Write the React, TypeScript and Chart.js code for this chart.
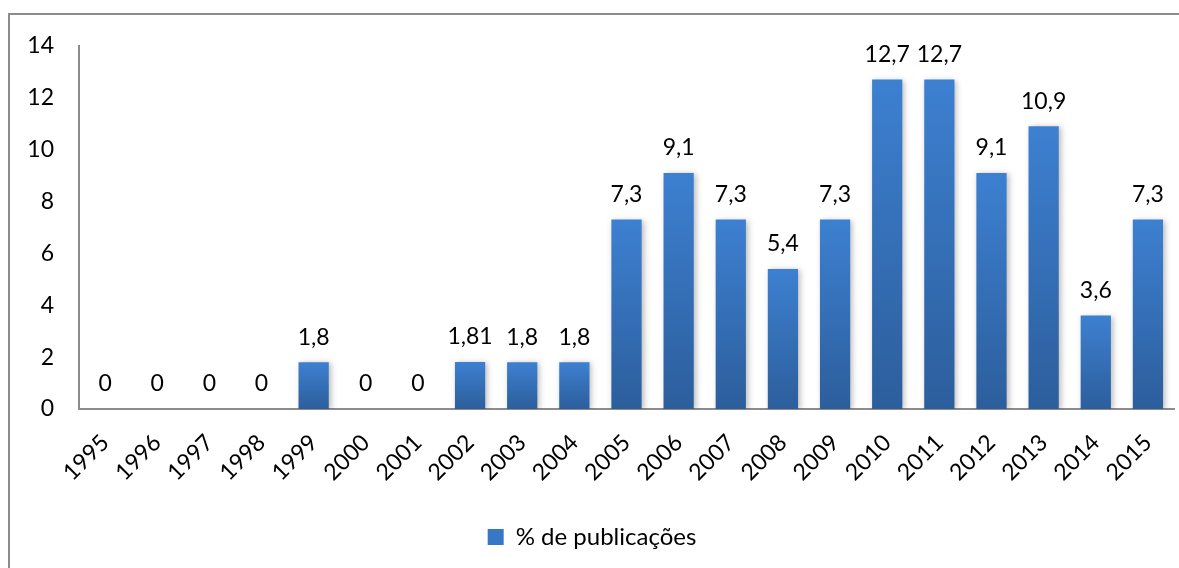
import React, { useEffect, useRef } from "react";
import { Chart, registerables } from "chart.js";

Chart.register(...registerables);

const years = ["1995","1996","1997","1998","1999","2000","2001","2002","2003","2004","2005","2006","2007","2008","2009","2010","2011","2012","2013","2014","2015"];
const percent = [0, 0, 0, 0, 1.8, 0, 0, 1.81, 1.8, 1.8, 7.3, 9.1, 7.3, 5.4, 7.3, 12.7, 12.7, 9.1, 10.9, 3.6, 7.3];
const seriesName = "% de publicações";
const yMin = 0;
const yMax = 14;
const yStep = 2;

const FONT = "Lato, 'Open Sans', sans-serif";

export default function App() {
  const ref = useRef<HTMLCanvasElement | null>(null);

  useEffect(() => {
    document.documentElement.style.overflow = "hidden";
    document.body.style.overflow = "hidden";
    const canvas = ref.current;
    if (!canvas) return;

    const shadowPlugin = {
      id: "barShadow",
      beforeDatasetsDraw(chart: any) {
        const ctx = chart.ctx;
        ctx.save();
        ctx.shadowColor = "rgba(0,0,0,0.28)";
        ctx.shadowBlur = 6;
        ctx.shadowOffsetX = 2;
        ctx.shadowOffsetY = 1;
      },
      afterDatasetsDraw(chart: any) {
        chart.ctx.restore();
      },
    };

    const labelPlugin = {
      id: "valueLabels",
      afterDatasetsDraw(chart: any) {
        const ctx = chart.ctx;
        const meta = chart.getDatasetMeta(0);
        ctx.save();
        ctx.font = `23px ${FONT}`;
        ctx.fillStyle = "#000";
        ctx.textAlign = "center";
        ctx.textBaseline = "middle";
        meta.data.forEach((bar: any, i: number) => {
          const v = percent[i];
          ctx.fillText(String(v).replace(".", ","), bar.x, bar.y - 25);
        });
        ctx.restore();
      },
    };

    const chart = new Chart(canvas, {
      type: "bar",
      data: {
        labels: years,
        datasets: [
          {
            label: seriesName,
            data: percent,
            barPercentage: 0.58,
            categoryPercentage: 1,
            borderWidth: 0,
            backgroundColor: (c: any) => {
              const ch = c.chart;
              const ys = ch.scales && ch.scales.y;
              if (!ys || c.dataIndex === undefined || c.type !== "data") return "#3a78c6";
              const top = ys.getPixelForValue(percent[c.dataIndex]);
              const bottom = ys.getPixelForValue(0);
              if (!(bottom - top > 1)) return "#3a78c6";
              const g = ch.ctx.createLinearGradient(0, top, 0, bottom);
              g.addColorStop(0, "#3d80d1");
              g.addColorStop(1, "#2c5e9c");
              return g;
            },
          },
        ],
      },
      options: {
        animation: false,
        responsive: false,
        maintainAspectRatio: false,
        layout: { padding: { top: 17, right: 16, left: 0, bottom: 16 } },
        plugins: {
          legend: {
            position: "bottom",
            labels: {
              font: { family: FONT, size: 24 },
              color: "#000",
              boxWidth: 16,
              boxHeight: 16,
              padding: 10,
              generateLabels: () => [
                {
                  text: seriesName,
                  fillStyle: "#3677c6",
                  strokeStyle: "#3677c6",
                  lineWidth: 0,
                  hidden: false,
                  datasetIndex: 0,
                },
              ],
            },
          },
          tooltip: { enabled: false },
        },
        scales: {
          x: {
            grid: { display: false },
            border: { display: true, color: "#8c8c8c", width: 2 },
            ticks: {
              font: { family: FONT, size: 23 },
              color: "#000",
              minRotation: 45,
              maxRotation: 45,
              autoSkip: false,
              padding: 12,
            },
            afterFit: (s: any) => {
              s.height = 106;
            },
          },
          y: {
            min: yMin,
            max: yMax,
            grid: { display: false },
            border: { display: true, color: "#8c8c8c", width: 2 },
            ticks: {
              stepSize: yStep,
              font: { family: FONT, size: 23 },
              color: "#000",
              padding: 17,
            },
            afterFit: (s: any) => {
              s.width = 69;
            },
          },
        },
      },
      plugins: [shadowPlugin, labelPlugin],
    });

    return () => chart.destroy();
  }, []);

  return (
    <div
      style={{
        position: "absolute",
        left: 8,
        top: 13,
        border: "2px solid #8c8c8c",
        background: "#fff",
        width: 1180,
        height: 560,
      }}
    >
      <canvas ref={ref} width={1180} height={560} style={{ display: "block", width: 1180, height: 560 }} />
    </div>
  );
}
